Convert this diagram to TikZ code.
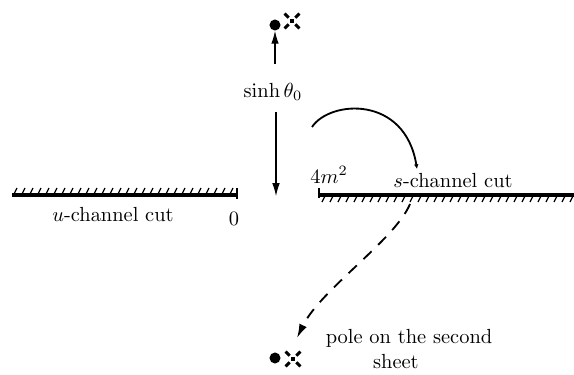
\documentclass[tikz,border=0pt]{standalone}
\usepackage{amsmath}
\usepackage{tikz}
\usetikzlibrary{arrows.meta,calc}
\tikzset{
  cut/.style={line width=1.6pt},
  hatch/.style={line width=0.6pt},
  pole/.style={circle, fill=black, inner sep=0pt, minimum size=0.19cm},
  polex/.style={
    rectangle, inner sep=0pt, minimum size=0.4cm,
    path picture={
      \fill ($(path picture bounding box.center)+(-0.035cm,-0.035cm)$)
        rectangle ++(0.07cm,0.07cm);
      \foreach \a in {45,135,225,315}
        \draw[line width=1.4pt]
          ($(path picture bounding box.center)+(\a:0.08cm)$) --
          ($(path picture bounding box.center)+(\a:0.18cm)$);
    }
  },
  arrow/.style={-{Latex[length=2.2mm,width=1.3mm]}, line width=0.5pt},
  arcarrow/.style={-{Latex[length=0.8mm,width=0.8mm]}, line width=0.9pt},
  dasharrow/.style={-{Latex[length=2.4mm,width=1.4mm]}, line width=0.9pt,
    dash pattern=on 5.5pt off 4.5pt}
}

\begin{document}
\begin{tikzpicture}[x=0.0172cm, y=-0.0172cm, font=\normalsize]
  \useasboundingbox (0,0) rectangle (574,374);

  % poles
  \node[pole]  (ptop) at (275,25) {};
  \node[polex] (xtop) at (292,21) {};
  \node[pole]  (pbot) at (275,358) {};
  \node[polex] (xbot) at (293,359) {};

  % labels
  \node (sinh) at (273,92) {$\sinh\theta_0$};
  \node (fourm) at (329,175) {$4m^2$};
  \node (scut) at (453,181) {$s$-channel cut};
  \node (ucut) at (113,215) {$u$-channel cut};
  \node (zero) at (234,219) {$0$};
  \node[align=center] (second) at (409,349)
    {pole on the second\\sheet\hspace*{0.45cm}};

  % cuts
  \coordinate (ul) at (12,195);
  \coordinate (ur) at (237,195);
  \coordinate (sl) at (319,195);
  \coordinate (sr) at (574,195);
  \draw[cut] (ul) -- (ur);
  \draw[cut] (sl) -- (sr);
  \draw[line width=0.9pt] ($(ur)+(0,-7)$) -- ($(ur)+(0,4)$);
  \draw[line width=0.9pt] ($(sl)+(0,-7)$) -- ($(sl)+(0,3)$);
  \foreach \x in {14,22,...,230}
    \draw[hatch] (\x,194) -- (\x+3,188);
  \foreach \x in {322,330,...,570}
    \draw[hatch] (\x+3,196) -- (\x,202);

  % arrows
  \coordinate (upfoot) at (275,64);
  \draw[arrow] (upfoot) -- (ptop);
  \coordinate (dntop) at (276,112);
  \coordinate (dnend) at (276,196);
  \draw[arrow] (dntop) -- (dnend);

  \coordinate (astart) at (312,127);
  \coordinate (aend) at (417,169);
  \draw[arcarrow] (astart) .. controls (330,100) and (405,95) .. (aend);

  \coordinate (dstart) at (410,204);
  \coordinate (dend) at (297,338);
  \draw[dasharrow] (dstart) .. controls (395,240) and (320,290) .. (dend);
\end{tikzpicture}
\end{document}
